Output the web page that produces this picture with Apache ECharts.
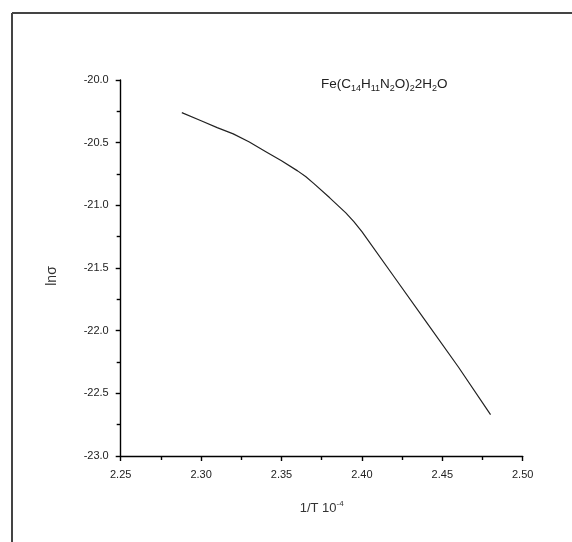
<!DOCTYPE html>
<html>
<head>
<meta charset="utf-8">
<script src="https://cdn.jsdelivr.net/npm/echarts@6/dist/echarts.min.js"></script>
<style>html,body{margin:0;padding:0;background:#fff;}#c{width:572px;height:542px;}</style>
</head>
<body>
<div id="c"></div>
<script>
var xValues = [2.288, 2.300, 2.310, 2.320, 2.330, 2.340, 2.350, 2.360, 2.365, 2.370, 2.380, 2.390, 2.395, 2.400, 2.420, 2.440, 2.460, 2.480];
var lnSigma = [-20.26, -20.325, -20.38, -20.43, -20.495, -20.57, -20.645, -20.725, -20.77, -20.825, -20.94, -21.06, -21.13, -21.21, -21.57, -21.93, -22.29, -22.67];
var xTicks = [2.25, 2.30, 2.35, 2.40, 2.45, 2.50];
var yTicks = [-23.0, -22.5, -22.0, -21.5, -21.0, -20.5, -20.0];

var pts = xValues.map(function (x, i) { return [x, lnSigma[i]]; });
var chart = echarts.init(document.getElementById('c'), null, {renderer: 'canvas'});
var font = 'Liberation Sans, Arial, sans-serif';
chart.setOption({
  animation: false,
  backgroundColor: '#fff',
  title: {
    text: 'Fe(C{s|14}H{s|11}N{s|2}O){s|2}2H{s|2}O',
    left: 316, top: 71,
    textStyle: {
      fontFamily: font, fontSize: 13.5, fontWeight: 'normal', color: '#222',
      rich: { s: { fontSize: 9, fontFamily: font, color: '#222', padding: [8, 0, 0, 0] } }
    }
  },
  grid: { left: 120.7, right: 49.3, top: 80, bottom: 86, containLabel: false },
  xAxis: {
    type: 'value', min: xTicks[0], max: xTicks[xTicks.length - 1], interval: 0.05,
    name: '1/T 10{p|-4}', nameLocation: 'middle', nameGap: 44,
    nameTextStyle: { fontFamily: font, fontSize: 13, color: '#333',
      rich: { p: { fontSize: 8, fontFamily: font, color: '#333', padding: [0, 0, 8, 0] } } },
    axisLine: { lineStyle: { color: '#000', width: 1.4 } },
    axisTick: { inside: false, length: 5, lineStyle: { color: '#000', width: 1.4 } },
    minorTick: { show: true, splitNumber: 2, length: 4, lineStyle: { color: '#000', width: 1.4 } },
    splitLine: { show: false },
    axisLabel: { fontFamily: font, fontSize: 11, color: '#222', margin: 13,
      formatter: function (v) { return v.toFixed(2); } }
  },
  yAxis: {
    type: 'value', min: yTicks[0], max: yTicks[yTicks.length - 1], interval: 0.5,
    name: 'lnσ', nameLocation: 'middle', nameGap: 62, nameRotate: 90,
    nameTextStyle: { fontFamily: font, fontSize: 14, color: '#333', padding: [0, 16, 0, 0] },
    axisLine: { show: true, lineStyle: { color: '#000', width: 1.4 } },
    axisTick: { show: true, inside: false, length: 5, lineStyle: { color: '#000', width: 1.4 } },
    minorTick: { show: true, splitNumber: 2, length: 4, lineStyle: { color: '#000', width: 1.4 } },
    splitLine: { show: false },
    axisLabel: { fontFamily: font, fontSize: 11, color: '#222', margin: 12,
      formatter: function (v) { return v.toFixed(1); } }
  },
  series: [{
    type: 'line', data: pts, showSymbol: false, smooth: false,
    lineStyle: { color: '#222', width: 1.2 }
  }],
  graphic: [
    { type: 'line', shape: { x1: 12, y1: 13, x2: 572, y2: 13 }, style: { stroke: '#444', lineWidth: 2 } },
    { type: 'line', shape: { x1: 12, y1: 13, x2: 12, y2: 542 }, style: { stroke: '#444', lineWidth: 2 } }
  ]
});
</script>
</body>
</html>
